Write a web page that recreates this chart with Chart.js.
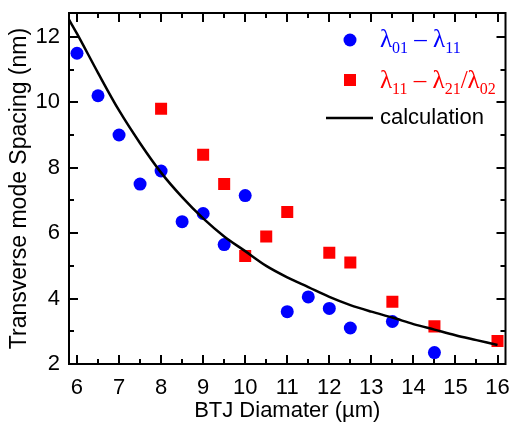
<!DOCTYPE html>
<html>
<head>
<meta charset="utf-8">
<script src="https://cdn.jsdelivr.net/npm/chart.js@4"></script>
<style>
  html, body { margin: 0; padding: 0; background: #fff; }
  #wrap { width: 514px; height: 422px; position: relative; }
</style>
</head>
<body>
<div id="wrap"><canvas id="chart"></canvas></div>
<script>
// measured mode spacing, lambda01 - lambda11 (blue circles)
const blueX = [6, 6.5, 7, 7.5, 8, 8.5, 9, 9.5, 10, 11, 11.5, 12, 12.5, 13.5, 14.5];
const blueY = [11.5, 10.2, 9.0, 7.5, 7.9, 6.35, 6.6, 5.65, 7.15, 3.6, 4.05, 3.7, 3.1, 3.3, 2.35];

// lambda11 - lambda21/lambda02 (red squares)
const redX = [8, 9, 9.5, 10, 10.5, 11, 12, 12.5, 13.5, 14.5, 16];
const redY = [9.8, 8.4, 7.5, 5.3, 5.9, 6.65, 5.4, 5.1, 3.9, 3.15, 2.7];

// calculation curve
const calcX = [5.8, 6, 6.5, 7, 7.5, 8, 8.5, 9, 9.5, 10, 10.5, 11, 11.5, 12, 12.5, 13, 13.5, 14, 14.5, 15, 15.5, 16];
const calcY = [12.55, 12.1, 10.9, 9.75, 8.75, 7.85, 7.1, 6.45, 5.9, 5.45, 5.0, 4.65, 4.35, 4.05, 3.8, 3.6, 3.42, 3.22, 3.05, 2.88, 2.73, 2.58];

const xTicks = [6, 7, 8, 9, 10, 11, 12, 13, 14, 15, 16];
const xMinor = [6.5, 7.5, 8.5, 9.5, 10.5, 11.5, 12.5, 13.5, 14.5, 15.5];
const yTicks = [2, 4, 6, 8, 10, 12];
const yMinor = [3, 5, 7, 9, 11];

const toPts = (xs, ys) => xs.map((x, i) => ({ x: x, y: ys[i] }));

// inward ticks on all four sides
const innerTicks = {
  id: 'innerTicks',
  afterDraw(chart) {
    const { ctx, chartArea: a, scales: { x, y } } = chart;
    ctx.save();
    ctx.strokeStyle = '#000';
    ctx.lineWidth = 2;
    const tick = (list, len, isX) => {
      list.forEach(v => {
        ctx.beginPath();
        if (isX) {
          const px = Math.round(x.getPixelForValue(v));
          ctx.moveTo(px, a.bottom); ctx.lineTo(px, a.bottom - len);
          ctx.moveTo(px, a.top); ctx.lineTo(px, a.top + len);
        } else {
          const py = Math.round(y.getPixelForValue(v));
          ctx.moveTo(a.left, py); ctx.lineTo(a.left + len, py);
          ctx.moveTo(a.right, py); ctx.lineTo(a.right - len, py);
        }
        ctx.stroke();
      });
    };
    tick(xTicks, 9, true);
    tick(xMinor, 5, true);
    tick(yTicks, 9, false);
    tick(yMinor, 5, false);
    ctx.strokeRect(a.left, a.top, a.right - a.left, a.bottom - a.top);
    ctx.restore();
  }
};

// legend with subscripts
const drawParts = (ctx, x, y, parts, color) => {
  ctx.fillStyle = color;
  ctx.textBaseline = 'alphabetic';
  parts.forEach(([t, sub]) => {
    ctx.font = sub ? '16px "Liberation Serif"' : '25px "Liberation Serif"';
    ctx.fillText(t, x, sub ? y + 6 : y);
    x += ctx.measureText(t).width;
  });
};

const customLegend = {
  id: 'customLegend',
  afterDraw(chart) {
    const ctx = chart.ctx;
    ctx.save();
    ctx.fillStyle = '#0000ff';
    ctx.beginPath();
    ctx.arc(350, 40, 6.5, 0, Math.PI * 2);
    ctx.fill();
    drawParts(ctx, 380, 47, [['λ', 0], ['01', 1], [' – ', 0], ['λ', 0], ['11', 1]], '#0000ff');

    ctx.fillStyle = '#ff0000';
    ctx.fillRect(344, 74, 12, 12);
    drawParts(ctx, 380, 88, [['λ', 0], ['11', 1], [' – ', 0], ['λ', 0], ['21', 1], ['/λ', 0], ['02', 1]], '#ff0000');

    ctx.strokeStyle = '#000';
    ctx.lineWidth = 2.5;
    ctx.beginPath();
    ctx.moveTo(326, 118); ctx.lineTo(373, 118);
    ctx.stroke();
    ctx.fillStyle = '#000';
    ctx.font = '22px "Liberation Sans"';
    ctx.textBaseline = 'middle';
    ctx.fillText('calculation', 380, 118);
    ctx.restore();
  }
};

const font = { family: 'Liberation Sans', size: 22 };
const noPad = s => { s.paddingLeft = 0; s.paddingRight = 0; s.paddingTop = 0; s.paddingBottom = 0; };

new Chart(document.getElementById('chart'), {
  type: 'scatter',
  data: {
    datasets: [
      {
        label: 'calculation',
        type: 'line',
        data: toPts(calcX, calcY),
        borderColor: '#000',
        borderWidth: 2.5,
        pointRadius: 0,
        cubicInterpolationMode: 'monotone',
        fill: false
      },
      {
        label: 'λ01 – λ11',
        data: toPts(blueX, blueY),
        backgroundColor: '#0000ff',
        borderColor: '#0000ff',
        pointStyle: 'circle',
        pointRadius: 6.5,
        borderWidth: 0
      },
      {
        label: 'λ11 – λ21/λ02',
        data: toPts(redX, redY),
        backgroundColor: '#ff0000',
        borderColor: '#ff0000',
        pointStyle: 'rect',
        pointRadius: 8.5,
        borderWidth: 0
      }
    ]
  },
  options: {
    responsive: true,
    maintainAspectRatio: false,
    animation: false,
    layout: { padding: { top: 13, right: 4, left: 0, bottom: 0 } },
    plugins: { legend: { display: false }, tooltip: { enabled: false } },
    scales: {
      x: {
        type: 'linear',
        min: 5.81,
        max: 16.19,
        afterBuildTicks: s => { s.ticks = xTicks.map(v => ({ value: v })); },
        afterFit: s => { s.height = 58; noPad(s); },
        grid: { display: false, drawTicks: false },
        border: { display: false },
        ticks: { color: '#000', font: font, padding: 11, maxRotation: 0 },
        title: { display: true, text: 'BTJ Diamater (µm)', color: '#000', font: { family: 'Liberation Sans', size: 22, lineHeight: 1 }, padding: { top: 0, bottom: 0 } }
      },
      y: {
        type: 'linear',
        min: 2,
        max: 12.73,
        afterBuildTicks: s => { s.ticks = yTicks.map(v => ({ value: v })); },
        afterFit: s => { s.width = 69; noPad(s); },
        grid: { display: false, drawTicks: false },
        border: { display: false },
        ticks: { color: '#000', font: font, padding: 9 },
        title: { display: true, text: 'Transverse mode Spacing (nm)', color: '#000', font: { family: 'Liberation Sans', size: 23, lineHeight: 1 }, padding: { top: 8, bottom: 0 } }
      }
    }
  },
  plugins: [innerTicks, customLegend]
});
</script>
</body>
</html>
